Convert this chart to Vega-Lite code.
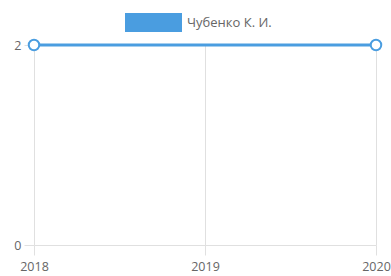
{
  "$schema": "https://vega.github.io/schema/vega-lite/v6.json",
  "width": 342,
  "height": 200,
  "autosize": {"type": "none"},
  "padding": {"left": 34, "top": 45, "right": 15, "bottom": 31},
  "background": "white",
  "config": {
    "view": {"stroke": null},
    "font": "Open Sans",
    "axis": {
      "labelColor": "#666",
      "labelFontSize": 12.5,
      "gridColor": "#e0e0e0",
      "tickColor": "#e0e0e0",
      "tickSize": 10,
      "domain": false,
      "title": null
    }
  },
  "data": {
    "values": [
      {"year": 2018, "value": 2, "name": "Чубенко К. И."},
      {"year": 2020, "value": 2, "name": "Чубенко К. И."}
    ]
  },
  "encoding": {
    "x": {
      "field": "year",
      "type": "quantitative",
      "scale": {"domain": [2018, 2020], "nice": false, "zero": false},
      "axis": {"tickCount": 2, "format": "d", "labelPadding": 5, "labelFlush": false, "labelOverlap": false}
    },
    "y": {
      "field": "value",
      "type": "quantitative",
      "scale": {"domain": [0, 2], "nice": false},
      "axis": {"tickCount": 1, "labelPadding": 3}
    },
    "color": {
      "field": "name",
      "type": "nominal",
      "scale": {"range": ["#4a9de0"]},
      "legend": {
        "orient": "none",
        "legendX": 91,
        "legendY": -51,
        "title": null,
        "padding": 0,
        "symbolType": "M-1,-0.333H1V0.333H-1Z",
        "symbolSize": 3249,
        "symbolFillColor": "#4a9de0",
        "symbolStrokeWidth": 0,
        "symbolOpacity": 1,
        "labelFontSize": 13,
        "labelColor": "#666",
        "labelOffset": 5
      }
    }
  },
  "layer": [
    {"mark": {"type": "line", "strokeWidth": 3}},
    {"mark": {"type": "point", "filled": true, "fill": "white", "size": 110, "strokeWidth": 2, "opacity": 1}, "encoding": {"stroke": {"field": "name", "type": "nominal", "scale": {"range": ["#4a9de0"]}, "legend": null}}}
  ]
}
